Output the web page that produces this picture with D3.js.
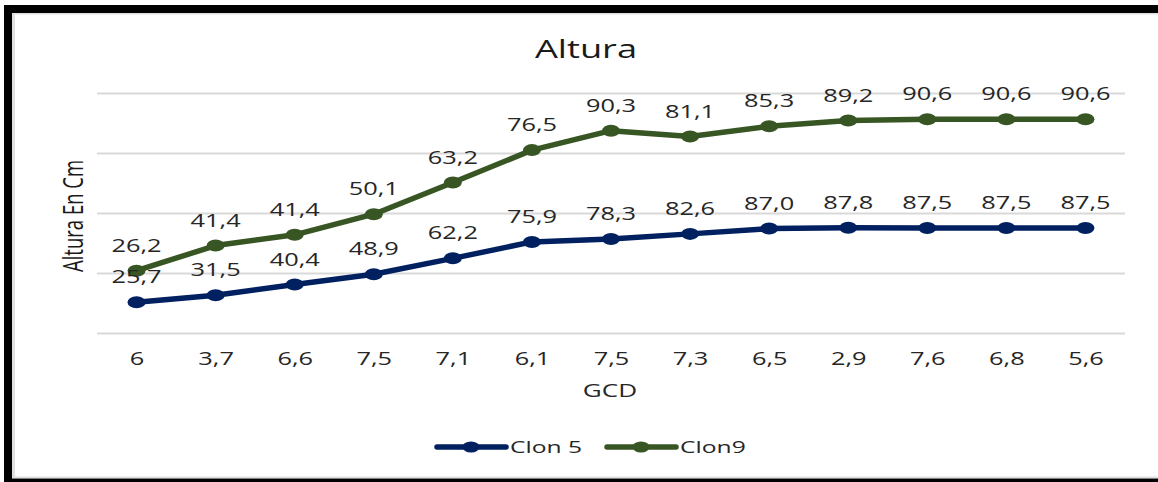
<!DOCTYPE html>
<html>
<head>
<meta charset="utf-8">
<script src="https://cdn.jsdelivr.net/npm/d3@7"></script>
<style>
  html, body { margin: 0; padding: 0; background: #fff; }
  svg { display: block; }
  text { font-family: "Open Sans", "Noto Sans", sans-serif; }
</style>
</head>
<body>
<svg id="chart" width="1158" height="482"></svg>
<script>
// GCD category labels along the x axis (some repeat, so positions are by index)
const gcdLabels = ["6", "3,7", "6,6", "7,5", "7,1", "6,1", "7,5", "7,3", "6,5", "2,9", "7,6", "6,8", "5,6"];
// Height in cm for each clone
const clon5 = [25.7, 31.5, 40.4, 48.9, 62.2, 75.9, 78.3, 82.6, 87.0, 87.8, 87.5, 87.5, 87.5];
const clon9 = [26.2, 41.4, 41.4, 50.1, 63.2, 76.5, 90.3, 81.1, 85.3, 89.2, 90.6, 90.6, 90.6];
const seriesNames = ["Clon 5", "Clon9"];
const seriesColors = ["#002060", "#375623"];
const yGridTicks = [0, 50, 100, 150, 200];

const svg = d3.select("#chart");
const W = 1158, H = 482;
const plot = { left: 97, right: 1125, top: 93, bottom: 333 };
const SX = 1.45; // horizontal text stretch
const textColor = "#262626";

const fmt = v => d3.format(".1f")(v).replace(".", ",");

// Frame
svg.append("rect").attr("x", 0).attr("y", 0).attr("width", W).attr("height", H).attr("fill", "#fff");
svg.append("rect").attr("x", 12).attr("y", 13).attr("width", W - 12).attr("height", 1.5).attr("fill", "#e0e0e0");
svg.append("rect").attr("x", 12).attr("y", 13).attr("width", 3).attr("height", 465).attr("fill", "#e0e0e0");
svg.append("rect").attr("x", 12).attr("y", 476.5).attr("width", W - 12).attr("height", 1.5).attr("fill", "#e0e0e0");
svg.append("rect").attr("x", 4).attr("y", 5).attr("width", W - 4).attr("height", 8).attr("fill", "#000");
svg.append("rect").attr("x", 4).attr("y", 5).attr("width", 8).attr("height", H - 5).attr("fill", "#000");
svg.append("rect").attr("x", 4).attr("y", 478.5).attr("width", W - 4).attr("height", 4).attr("fill", "#000");

// Scales
const idx = d3.range(gcdLabels.length);
const x = d3.scalePoint().domain(idx).range([plot.left, plot.right]).padding(0.5);
const y = d3.scaleLinear().domain([0, 200]).range([plot.bottom, plot.top]);

// Gridlines
svg.append("g")
  .attr("transform", `translate(${plot.left},0)`)
  .call(d3.axisLeft(y).tickValues(yGridTicks).tickSize(-(plot.right - plot.left)).tickFormat(""))
  .call(g => g.select(".domain").remove())
  .call(g => g.selectAll(".tick line").attr("stroke", "#d9d9d9").attr("stroke-width", 2));

// X axis tick labels
svg.append("g")
  .attr("transform", `translate(0,${plot.bottom})`)
  .call(d3.axisBottom(x).tickSize(0).tickFormat(i => gcdLabels[i]))
  .call(g => g.select(".domain").remove())
  .call(g => g.selectAll(".tick text")
    .attr("y", 0).attr("dy", 0)
    .attr("transform", `translate(0,32) scale(${SX},1)`)
    .attr("font-size", 17.5)
    .attr("font-family", "'Open Sans', sans-serif")
    .attr("fill", textColor));

// Stacked lines
const table = idx.map(i => ({ i, "Clon 5": clon5[i], "Clon9": clon9[i] }));
const stacked = d3.stack().keys(seriesNames)(table);
const line = d3.line().x(d => x(d.data.i)).y(d => y(d[1]));

stacked.forEach((s, k) => {
  const g = svg.append("g");
  g.append("path").datum(s)
    .attr("d", line)
    .attr("fill", "none")
    .attr("stroke", seriesColors[k])
    .attr("stroke-width", 5.5)
    .attr("stroke-linejoin", "round");
  g.selectAll("ellipse").data(s).join("ellipse")
    .attr("cx", d => x(d.data.i))
    .attr("cy", d => y(d[1]))
    .attr("rx", 9).attr("ry", 6)
    .attr("fill", seriesColors[k]);
});

// Value labels above each point
stacked.forEach((s, k) => {
  svg.append("g").selectAll("text").data(s).join("text")
    .attr("transform", d => `translate(${x(d.data.i)},${y(d[1]) - 19}) scale(${SX},1)`)
    .attr("text-anchor", "middle")
    .attr("font-size", 17.5)
    .attr("fill", textColor)
    .text(d => fmt(d.data[seriesNames[k]]));
});

// Title
svg.append("text")
  .attr("transform", `translate(586,58) scale(${SX},1)`)
  .attr("text-anchor", "middle")
  .attr("font-size", 25)
  .attr("fill", "#1a1a1a")
  .text("Altura");

// Axis titles
svg.append("text")
  .attr("transform", `translate(610,397) scale(${SX},1)`)
  .attr("text-anchor", "middle")
  .attr("font-size", 18)
  .attr("fill", textColor)
  .text("GCD");

svg.append("text")
  .attr("transform", `translate(83,216) scale(${SX},1) rotate(-90)`)
  .attr("text-anchor", "middle")
  .attr("font-size", 18.5)
  .attr("fill", "#1a1a1a")
  .text("Altura En Cm");

// Legend
const legendItems = [
  { name: seriesNames[0], color: seriesColors[0], x0: 437 },
  { name: seriesNames[1], color: seriesColors[1], x0: 607 }
];
const lg = svg.append("g");
legendItems.forEach(it => {
  lg.append("line")
    .attr("x1", it.x0).attr("x2", it.x0 + 69)
    .attr("y1", 447).attr("y2", 447)
    .attr("stroke", it.color).attr("stroke-width", 5.5).attr("stroke-linecap", "round");
  lg.append("ellipse")
    .attr("cx", it.x0 + 34).attr("cy", 447)
    .attr("rx", 8.5).attr("ry", 5.5)
    .attr("fill", it.color);
  lg.append("text")
    .attr("transform", `translate(${it.x0 + 73},453) scale(${SX},1)`)
    .attr("font-size", 17)
    .attr("fill", textColor)
    .text(it.name);
});
</script>
</body>
</html>
